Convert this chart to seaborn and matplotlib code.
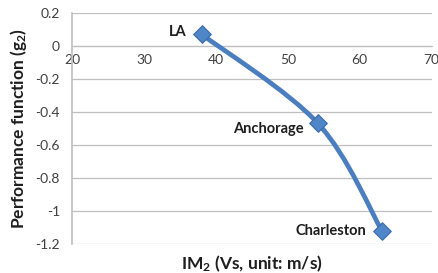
import numpy as np
import pandas as pd
import seaborn as sns
import matplotlib.pyplot as plt
from matplotlib.path import Path
from matplotlib.patches import PathPatch

# data
cities = ["LA", "Anchorage", "Charleston"]
vs = [38.0, 54.2, 63.1]
g2 = [0.07, -0.47, -1.12]

x_ticks = [20, 30, 40, 50, 60, 70]
y_ticks = [0.2, 0, -0.2, -0.4, -0.6, -0.8, -1, -1.2]

df = pd.DataFrame({"city": cities, "vs": vs, "g2": g2})

sns.set_style("white")
plt.rcParams['font.family'] = ['Lato', 'DejaVu Sans']
plt.rcParams['mathtext.fontset'] = 'custom'
plt.rcParams['mathtext.rm'] = 'Lato:bold'
plt.rcParams['mathtext.bf'] = 'Lato:bold'
plt.rcParams['mathtext.default'] = 'rm'

blue = "#4a7ebf"
grey_txt = "#404040"
dark = "#1e1e1e"

fig = plt.figure(figsize=(4.39, 2.73), dpi=100)
ax = fig.add_axes([0.165, 0.106, 0.818, 0.847])

# excel style smoothed line (bezier through the points)
pts = df[["vs", "g2"]].to_numpy()
n = len(pts)
verts = [pts[0]]
codes = [Path.MOVETO]
for i in range(n - 1):
    p_prev = pts[i - 1] if i > 0 else pts[i]
    p_next2 = pts[i + 2] if i + 2 < n else pts[i + 1]
    c1 = pts[i] + (pts[i + 1] - p_prev) / 6
    c2 = pts[i + 1] - (p_next2 - pts[i]) / 6
    verts += [c1, c2, pts[i + 1]]
    codes += [Path.CURVE4] * 3
ax.add_patch(PathPatch(Path(verts, codes), facecolor="none", edgecolor=blue,
                       lw=3.4, capstyle="round", zorder=3))

sns.scatterplot(data=df, x="vs", y="g2", marker="D", s=80, color="#4f86c8",
                edgecolor="#3a6aa8", linewidth=0.8, zorder=4, ax=ax, legend=False)

offsets = {"LA": (-11, 2), "Anchorage": (-10, -4), "Charleston": (-11, 0)}
for c, x, y in zip(cities, vs, g2):
    ax.annotate(c, (x, y), xytext=offsets[c], textcoords="offset points",
                ha="right", va="center", fontsize=10.5, fontweight="bold", color=dark)

ax.set_xlim(20, 70)
ax.set_ylim(-1.2, 0.2)
ax.set_xticks(x_ticks)
ax.set_yticks(y_ticks)
ax.set_yticklabels([f"{t:g}" for t in y_ticks])
ax.yaxis.grid(True, color="#bfbfbf", lw=0.9)
ax.set_axisbelow(True)

for s in ["top", "right"]:
    ax.spines[s].set_visible(False)
ax.spines["bottom"].set_position(("data", 0))
ax.spines["bottom"].set_color("#bfbfbf")
ax.spines["left"].set_color("#bfbfbf")
ax.spines["left"].set_linewidth(1.2)
ax.tick_params(axis="both", which="major", length=3, color="#bfbfbf",
               labelsize=10, labelcolor=grey_txt, direction="out")
ax.tick_params(axis="x", pad=3)
ax.tick_params(axis="y", pad=6)

ax.set_xlabel("IM$_2$ (Vs, unit: m/s)", fontsize=12.5, fontweight="bold", color=dark)
ax.xaxis.set_label_coords(0.5, -0.04)
ax.set_ylabel("Performance function (g$_2$)", fontsize=12.5, fontweight="bold", color=dark)
ax.yaxis.set_label_coords(-0.12, 0.5)

fig.savefig("out.png", dpi=100)
